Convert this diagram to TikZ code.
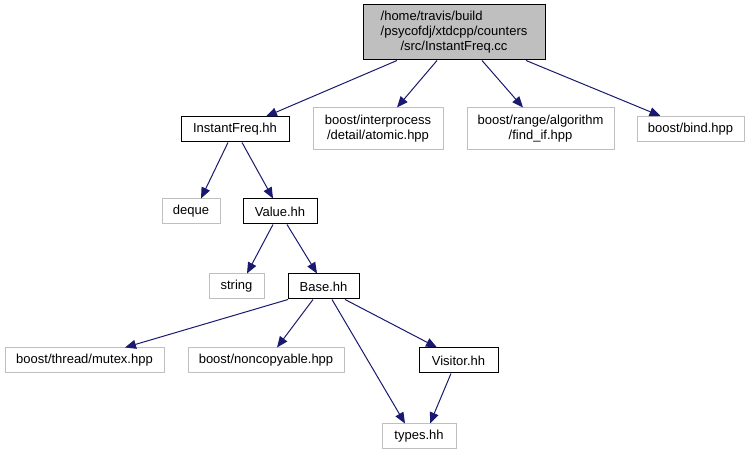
\documentclass[tikz,border=0pt]{standalone}
\usepackage{fontspec}
\setmainfont{Liberation Sans}
\usetikzlibrary{arrows.meta}
\definecolor{edgeblue}{HTML}{191970}
\definecolor{extgray}{HTML}{BFBFBF}
\begin{document}
\begin{tikzpicture}[x=1pt,y=1pt,
  box/.style={draw=black,line width=1pt,inner sep=0pt,align=center,
    font=\fontsize{13}{15}\selectfont},
  ext/.style={box,draw=extgray},
  rootbox/.style={box,fill=extgray},
  edge/.style={draw=edgeblue,line width=1pt,-{Triangle[length=11pt,width=9pt]}}]
\useasboundingbox (0,0) rectangle (750,455);
\node[rootbox,minimum width=182,minimum height=55] (root) at (454,422.5)
  {\rlap{/home/travis/build}\phantom{/psycofdj/xtdcpp/counters}\\/psycofdj/xtdcpp/counters\\/src/InstantFreq.cc};
\node[box,minimum width=108,minimum height=25] (ifh) at (235,325.5) {InstantFreq.hh};
\node[ext,minimum width=130,minimum height=42] (atomic) at (378,326) {boost/interprocess\\/detail/atomic.hpp};
\node[ext,minimum width=147,minimum height=42] (findif) at (540.5,326) {boost/range/algorithm\\/find\_if.hpp};
\node[ext,minimum width=107,minimum height=25] (bind) at (690.5,326) {boost/bind.hpp};
\node[ext,minimum width=58,minimum height=25] (deque) at (191,243.5) {deque};
\node[box,minimum width=74,minimum height=25] (value) at (280,243.5) {Value.hh};
\node[ext,minimum width=55,minimum height=25] (string) at (236.5,168.5) {string};
\node[box,minimum width=71,minimum height=25] (base) at (323.5,168.5) {Base.hh};
\node[ext,minimum width=159,minimum height=25] (mutex) at (84.5,94.5) {boost/thread/mutex.hpp};
\node[ext,minimum width=156,minimum height=25] (noncopy) at (266,94.5) {boost/noncopyable.hpp};
\node[box,minimum width=79,minimum height=25] (visitor) at (458.5,94.5) {Visitor.hh};
\node[ext,minimum width=74,minimum height=25] (types) at (419,18.5) {types.hh};
\draw[edge] ([xshift=-57pt]root.south) -- ([xshift=31pt]ifh.north);
\draw[edge] ([xshift=-17pt]root.south) -- ([xshift=19pt]atomic.north);
\draw[edge] ([xshift=28pt]root.south) -- ([xshift=-17.5pt]findif.north);
\draw[edge] ([xshift=72pt]root.south) -- ([xshift=-30pt]bind.north);
\draw[edge] ([xshift=-7pt]ifh.south) -- ([xshift=10pt]deque.north);
\draw[edge] ([xshift=7pt]ifh.south) -- ([xshift=-7pt]value.north);
\draw[edge] ([xshift=-7pt]value.south) -- ([xshift=10.5pt]string.north);
\draw[edge] ([xshift=7pt]value.south) -- ([xshift=-6.5pt]base.north);
\draw[edge] ([xshift=-35.5pt]base.south) -- ([xshift=40.5pt]mutex.north);
\draw[edge] ([xshift=-10.5pt]base.south) -- ([xshift=11pt]noncopy.north);
\draw[edge] ([xshift=8.5pt]base.south) -- ([xshift=-14pt]types.north);
\draw[edge] ([xshift=21.5pt]base.south) -- ([xshift=-21.5pt]visitor.north);
\draw[edge] ([xshift=-7.5pt]visitor.south) -- ([xshift=11pt]types.north);
\end{tikzpicture}
\end{document}
